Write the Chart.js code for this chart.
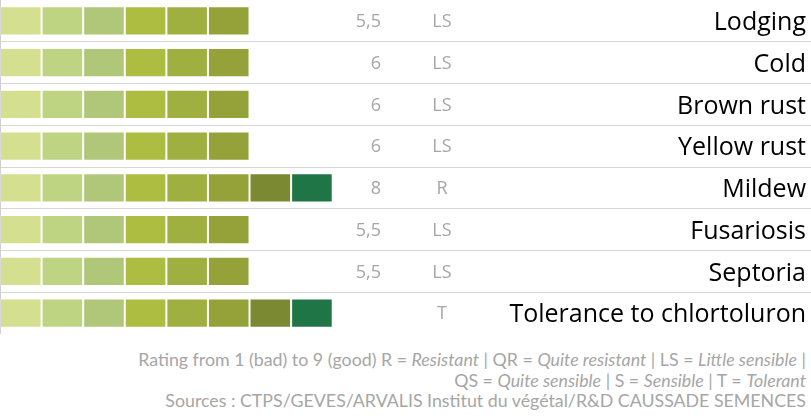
<!DOCTYPE html>
<html><head><meta charset="utf-8">
<script src="https://cdn.jsdelivr.net/npm/chart.js@4"></script>
<style>
html,body{margin:0;padding:0;background:#fff;}
#wrap{position:relative;width:811px;height:418px;overflow:hidden;}
#cw{position:absolute;left:0;top:0;width:811px;height:334px;}
#foot{position:absolute;right:5px;top:349px;font-family:Lato;font-size:17.8px;line-height:20.5px;color:#a6a6a6;text-align:right;white-space:nowrap;}
</style></head><body>
<div id="wrap"><div id="cw"><canvas id="c"></canvas></div>
<div id="foot">Rating from 1 (bad) to 9 (good) R = <i>Resistant</i> | QR = <i>Quite resistant</i> | LS = <i>Little sensible</i> |<br>QS = <i>Quite sensible</i> | S = <i>Sensible</i> | T = <i>Tolerant</i><br>Sources : CTPS/GEVES/ARVALIS Institut du végétal/R&amp;D CAUSSADE SEMENCES</div>
</div>
<script>
const categories = ['Lodging','Cold','Brown rust','Yellow rust','Mildew','Fusariosis','Septoria','Tolerance to chlortoluron'];
const scores = ['5,5','6','6','6','8','5,5','5,5',''];
const ratings = ['LS','LS','LS','LS','R','LS','LS','T'];
const barSegments = [6,6,6,6,8,6,6,8];
const segmentColors = ['#d4e08f','#bed482','#b0c678','#acbd42','#a0b040','#94a239','#7a8932','#1f7546'];

const datasets = segmentColors.map((col, i) => ({
  label: 'Level ' + (i + 1),
  data: barSegments.map(n => n > i ? 1 : null),
  backgroundColor: col,
  borderColor: 'rgba(255,255,255,0.2)',
  borderWidth: 1,
  borderSkipped: false,
  barPercentage: 0.7,
  categoryPercentage: 1,
  yAxisID: 'y'
}));

const textColumns = {
  id: 'textColumns',
  afterDatasetsDraw(chart) {
    const {ctx, chartArea, scales: {y}} = chart;
    ctx.save();
    ctx.fillStyle = '#a6a6a6';
    ctx.font = '18px "Open Sans"';
    ctx.textBaseline = 'middle';
    categories.forEach((c, i) => {
      const py = y.getPixelForValue(i) + 1;
      ctx.textAlign = 'right';
      ctx.fillText(scores[i], chartArea.left + 381, py);
      ctx.textAlign = 'center';
      ctx.fillText(ratings[i], chartArea.left + 442, py);
    });
    ctx.restore();
  }
};

const noPad = s => { s.paddingTop = 0; s.paddingBottom = 0; s.paddingLeft = 0; s.paddingRight = 0; s.width = 0; };

new Chart(document.getElementById('c'), {
  type: 'bar',
  data: { labels: categories, datasets },
  options: {
    indexAxis: 'y',
    responsive: true,
    maintainAspectRatio: false,
    animation: false,
    layout: { padding: 0 },
    plugins: { legend: { display: false }, tooltip: { enabled: false } },
    scales: {
      x: { stacked: true, min: 0, max: 19.5, display: false },
      y: {
        stacked: true,
        position: 'left',
        ticks: { display: false },
        afterFit: noPad,
        grid: {
          offset: true,
          drawTicks: false,
          lineWidth: 1,
          color: c => (c.type === 'tick' && c.index > 0) ? '#d6d6d6' : 'rgba(0,0,0,0)'
        },
        border: { display: true, color: '#d0d0d0', width: 1 }
      },
      y2: {
        type: 'category',
        labels: categories,
        position: 'right',
        offset: true,
        afterFit: noPad,
        grid: { display: false, drawTicks: false },
        border: { display: false },
        ticks: { mirror: true, padding: -5, labelOffset: 2, color: '#000', font: { family: 'Open Sans', size: 25 } }
      }
    }
  },
  plugins: [textColumns]
});
</script>
</body></html>
